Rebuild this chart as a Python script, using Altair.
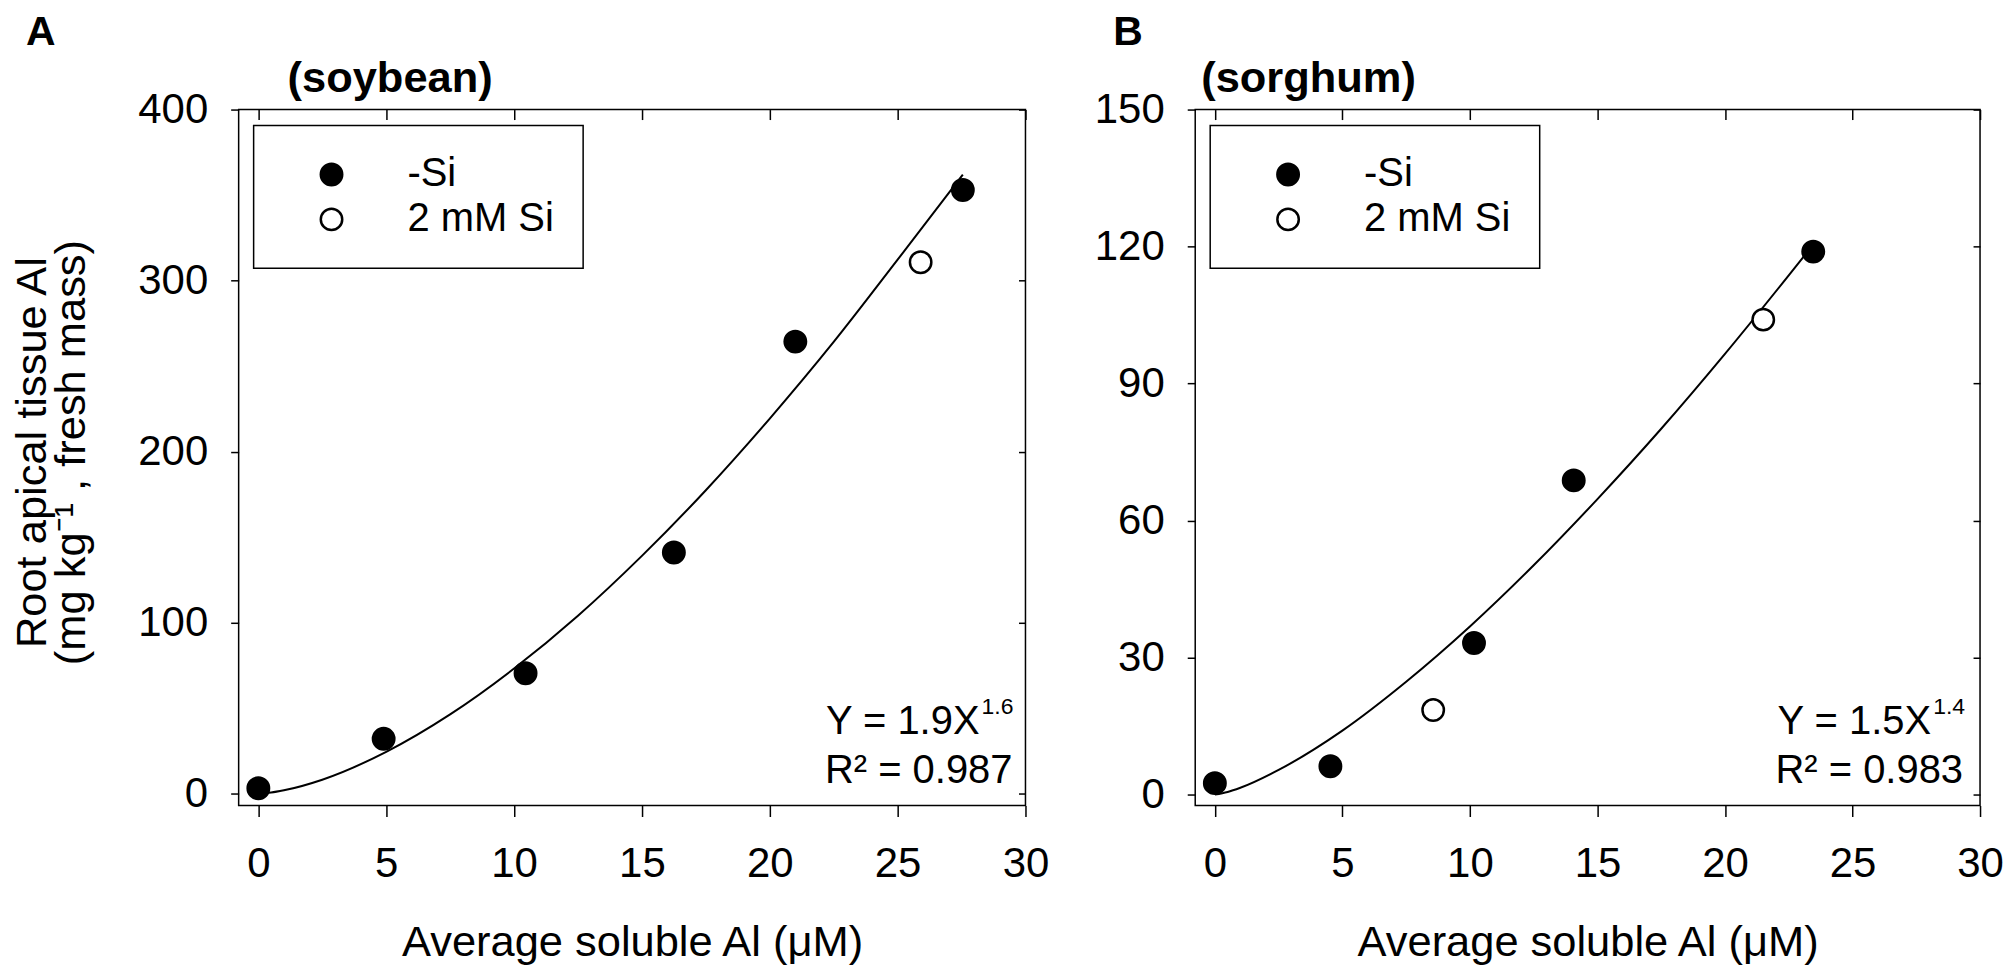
import altair as alt
import pandas as pd

FONT = "Liberation Sans"

groups = ["-Si", "2 mM Si"]
x_ticks = [0, 5, 10, 15, 20, 25, 30]
x_domain = [-0.77, 30]
x_title = "Average soluble Al (μM)"
y_title = ["Root apical tissue Al", "(mg kg⁻¹ , fresh mass)"]

# Panel A - soybean
soy_si_x = [0.0, 4.9, 10.45, 16.25, 21.0, 27.55]
soy_si_y = [3.1, 32.0, 70.4, 141.0, 264.3, 353.0]
soy_si2_x = [25.9]
soy_si2_y = [310.7]
soy_fit_x = [0, 0.5, 1, 2.5, 5, 7.5, 10, 12.5, 15, 17.5, 20, 22.5, 25, 27.55]
soy_fit_y = [0, 0.6, 1.9, 8.1, 24.4, 46.3, 73.1, 104.0, 139.0, 177.4, 219.3, 264.1, 312.2, 362.0]
soy_y_ticks = [0, 100, 200, 300, 400]
soy_y_domain = [-7, 400]
soy_letter = "A"
soy_name = "(soybean)"
soy_eq = "Y = 1.9X"
soy_eq_sup = "1.6"
soy_r2 = "R² = 0.987"

# Panel B - sorghum
sor_si_x = [0.0, 4.53, 10.16, 14.07, 23.46]
sor_si_y = [2.5, 6.2, 33.2, 68.8, 118.9]
sor_si2_x = [8.56, 21.5]
sor_si2_y = [18.5, 104.0]
sor_fit_x = [0, 0.5, 1, 2.5, 5, 7.5, 10, 12.5, 15, 17.5, 20, 22.5, 23.4]
sor_fit_y = [0, 0.57, 1.5, 5.4, 14.0, 24.7, 36.8, 50.2, 64.7, 80.1, 96.5, 113.7, 120.0]
sor_y_ticks = [0, 30, 60, 90, 120, 150]
sor_y_domain = [-2.4, 150]
sor_letter = "B"
sor_name = "(sorghum)"
sor_eq = "Y = 1.5X"
sor_eq_sup = "1.4"
sor_r2 = "R² = 0.983"

H = 697


def label(s, x, y, size, weight="normal", align="left"):
    return alt.Chart(pd.DataFrame({"t": [s]})).mark_text(
        align=align, baseline="alphabetic", fontSize=size, fontWeight=weight,
        font=FONT, color="black"
    ).encode(text="t:N", x=alt.value(x), y=alt.value(y))


def panel(W, si_x, si_y, s2_x, s2_y, fit_x, fit_y, y_dom, y_ticks,
          letter, name, name_dx, letter_dx, eq, eq_sup, r2, eq_off, with_ytitle):
    pts = pd.DataFrame({
        "x": si_x + s2_x,
        "y": si_y + s2_y,
        "group": [groups[0]] * len(si_x) + [groups[1]] * len(s2_x),
    })
    fit = pd.DataFrame({"x": fit_x, "y": fit_y})
    xs = alt.Scale(domain=x_domain, nice=False, zero=False)
    ys = alt.Scale(domain=y_dom, nice=False, zero=False)

    common = dict(domain=False, grid=False, tickColor="black", tickWidth=1.5)
    bottom = alt.Axis(values=x_ticks, orient="bottom", title=x_title, tickSize=11,
                      labelPadding=27, labelFontSize=42, labelFont=FONT, labelColor="black",
                      labelFlush=False, format="d", titleFont=FONT, titleFontSize=43.5,
                      titleFontWeight="normal", titleColor="black", titleY=150,
                      titleBaseline="alphabetic", **common)
    if with_ytitle:
        left = alt.Axis(values=y_ticks, orient="left", title=y_title, tickSize=8,
                        labelPadding=23, labelFontSize=42, labelFont=FONT, labelColor="black",
                        labelFlush=False, format="d", titleFont=FONT, titleFontSize=43.5,
                        titleFontWeight="normal", titleColor="black", titleAngle=270,
                        titleX=-193, titleY=343, titleAlign="center",
                        titleBaseline="alphabetic", titleLineHeight=39, **common)
    else:
        left = alt.Axis(values=y_ticks, orient="left", title=None, tickSize=8,
                        labelPadding=23, labelFontSize=42, labelFont=FONT, labelColor="black",
                        labelFlush=False, format="d", **common)
    top = alt.Axis(values=x_ticks, orient="top", offset=-10, tickSize=10, labels=False,
                   title=None, **common)
    right = alt.Axis(values=y_ticks, orient="right", offset=-7, tickSize=7, labels=False,
                     title=None, **common)

    line = alt.Chart(fit).mark_line(color="black", strokeWidth=2, interpolate="monotone").encode(
        x=alt.X("x:Q", scale=xs, axis=top),
        y=alt.Y("y:Q", scale=ys, axis=right),
    )
    points = alt.Chart(pts).mark_point(
        filled=True, size=460, stroke="black", strokeWidth=2.5, opacity=1
    ).encode(
        x=alt.X("x:Q", scale=xs, axis=bottom),
        y=alt.Y("y:Q", scale=ys, axis=left),
        fill=alt.Fill("group:N", scale=alt.Scale(domain=groups, range=["black", "white"]),
                      legend=alt.Legend(title=None, orient="none", legendX=15, legendY=16,
                                        padding=29, symbolOffset=29, labelOffset=56,
                                        rowPadding=5, labelFontSize=40, labelFont=FONT,
                                        labelColor="black", labelLimit=400,
                                        strokeColor="black", symbolSize=460,
                                        symbolStrokeColor="black", symbolStrokeWidth=2.5,
                                        symbolType="circle")),
    )
    texts = [
        label(letter, letter_dx, -65, 41, "bold"),
        label(name, name_dx, -18, 43.5, "bold"),
        label(eq, W - eq_off[0], 625.5, 40, align="right"),
        label(eq_sup, W - eq_off[1], 605, 23, align="right"),
        label(r2, W - eq_off[2], 674.5, 40, align="right"),
    ]
    return alt.layer(line, points, *texts).resolve_axis(
        x="independent", y="independent"
    ).properties(width=W, height=H)


left_panel = panel(788, soy_si_x, soy_si_y, soy_si2_x, soy_si2_y, soy_fit_x, soy_fit_y,
                   soy_y_domain, soy_y_ticks, soy_letter, soy_name, 49, -213,
                   soy_eq, soy_eq_sup, soy_r2, (46, 12, 13), True)
right_panel = panel(786, sor_si_x, sor_si_y, sor_si2_x, sor_si2_y, sor_fit_x, sor_fit_y,
                    sor_y_domain, sor_y_ticks, sor_letter, sor_name, 6, -82,
                    sor_eq, sor_eq_sup, sor_r2, (49, 15, 17), False)

chart = alt.hconcat(left_panel, right_panel, spacing=43).resolve_scale(
    x="independent", y="independent", fill="independent"
).properties(
    padding={"left": 2, "top": 2, "right": 0, "bottom": 0}, background="white"
).configure_view(
    stroke="black", strokeWidth=1.5
).configure_legend(strokeWidth=1.5)

chart.save("out.html", embed_options={"renderer": "svg", "actions": False})
